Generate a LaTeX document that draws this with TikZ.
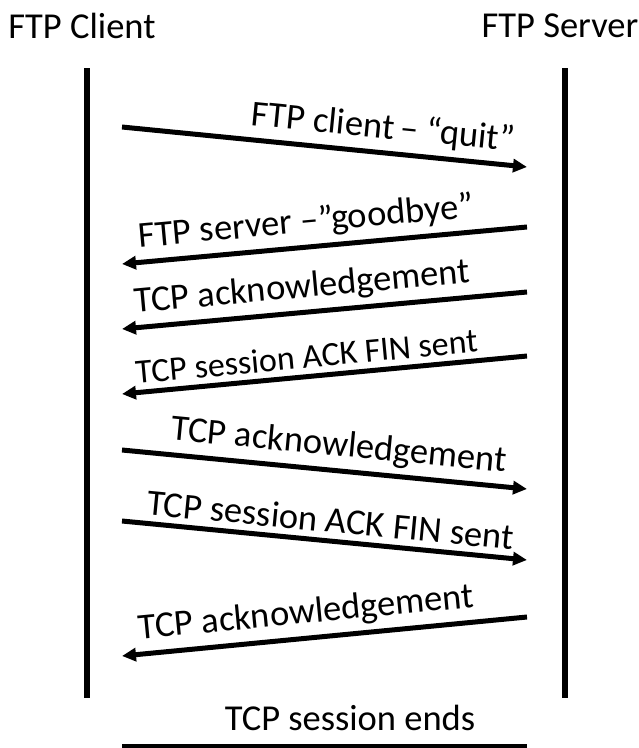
\documentclass[tikz,border=0pt]{standalone}
\usepackage{fontspec}
\setmainfont{Carlito}
\usetikzlibrary{arrows.meta}

\begin{document}
\begin{tikzpicture}[x=1pt, y=-1pt]
	\tikzstyle{every node} = [inner sep=0pt, font=\fontsize{36.5}{42}\selectfont]
	\tikzstyle{life} = [line width=6pt]
	\tikzstyle{msg}  = [line width=5pt, -{Triangle[length=14pt,width=13pt]}]
	\tikzstyle{back} = [line width=5pt, {Triangle[length=14pt,width=13pt]}-]
	\tikzstyle{lbl}  = [sloped, above=6pt]
	\useasboundingbox (0,0) rectangle (639,748);
	\node (client) at (82,26)  {FTP Client};
	\node (server) at (560,26) {FTP Server};
	% lifelines
	\coordinate (ctop) at (87,68);
	\coordinate (cbot) at (87,698);
	\coordinate (stop) at (565,68);
	\coordinate (sbot) at (565,698);
	\draw [life] (ctop) -- (cbot);
	\draw [life] (stop) -- (sbot);
	% message ends
	\coordinate (c1) at (122,127);  \coordinate (s1) at (527,167);
	\coordinate (c2) at (122,264);  \coordinate (s2) at (527,227);
	\coordinate (c3) at (122,329);  \coordinate (s3) at (527,292);
	\coordinate (c4) at (122,394);  \coordinate (s4) at (527,356);
	\coordinate (c5) at (122,450);  \coordinate (s5) at (527,489);
	\coordinate (c6) at (122,521);  \coordinate (s6) at (527,560);
	\coordinate (c7) at (122,656);  \coordinate (s7) at (527,617);
	\draw [msg]  (c1) -- node[lbl, pos=.64] (quit) {FTP client\,-- “quit”} (s1);
	\draw [back] (c2) -- node[lbl, pos=.46] (bye)  {FTP server --”goodbye”} (s2);
	\draw [back] (c3) -- node[lbl, pos=.45] (ack1) {TCP acknowledgement} (s3);
	\draw [back] (c4) -- node[lbl, pos=.46, font=\fontsize{34}{40}\selectfont] (fin1) {TCP session ACK FIN sent} (s4);
	\draw [msg]  (c5) -- node[lbl, pos=.53] (ack2) {TCP acknowledgement} (s5);
	\draw [msg]  (c6) -- node[lbl, pos=.51] (fin2) {TCP session ACK FIN sent} (s6);
	\draw [back] (c7) -- node[lbl, pos=.46] (ack3) {TCP acknowledgement} (s7);
	% end of session
	\node (ends) at (350,718) {TCP session ends};
	\coordinate (e1) at (122,746);
	\coordinate (e2) at (527,746);
	\draw [line width=4pt] (e1) -- (e2);
\end{tikzpicture}
\end{document}
